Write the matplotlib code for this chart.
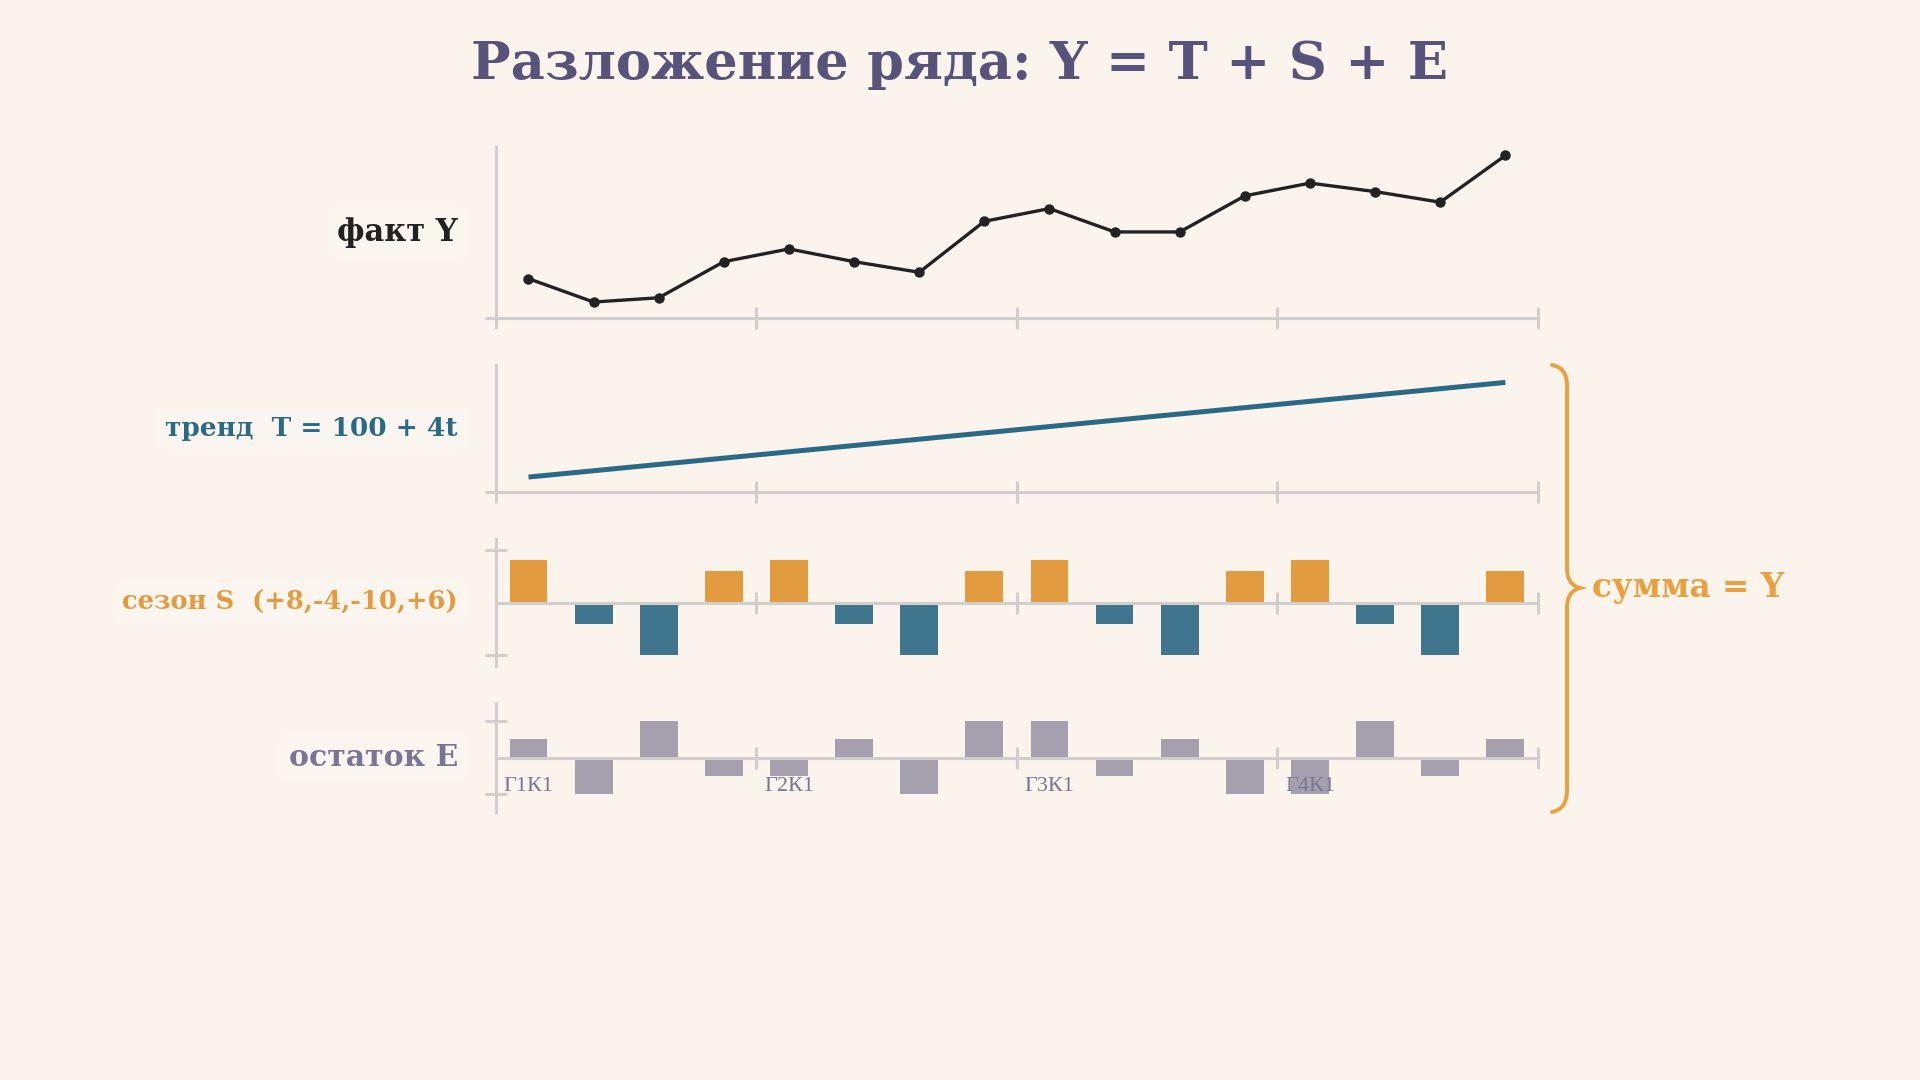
import matplotlib.pyplot as plt
from matplotlib.path import Path
from matplotlib.patches import PathPatch

# quarters t = 1..16
t = list(range(1, 17))
trend = [100 + 4 * i for i in t]
season_pattern = [8, -4, -10, 6]
season = season_pattern * 4
resid = [1, -2, 2, -1, -1, 1, -2, 2, 2, -1, 1, -2, -2, 2, -1, 1]
fact = [113, 102, 104, 121, 127, 121, 116, 140, 146, 135, 135, 152, 158, 154, 149, 171]
quarter_labels = ["Г1К1", "Г2К1", "Г3К1", "Г4К1"]
label_pos = [1, 5, 9, 13]

BG = "#faf4ec"
GRID = "#d2cecd"
INK = "#222222"
TEAL = "#2b6a86"
TEAL_BAR = "#3f768d"
ORANGE = "#e39b40"
BRACE = "#e9a03e"
PURPLE = "#57537b"
RESID = "#a59fae"
RESID_TXT = "#7a7595"

SERIF = ["DejaVu Serif"]

fig = plt.figure(figsize=(19.2, 10.8), dpi=100, facecolor=BG)

L, W = 0.2583, 0.5427
ax_y = fig.add_axes([L, 0.7056, W, 0.1583])
ax_t = fig.add_axes([L, 0.5444, W, 0.1176])
ax_s = fig.add_axes([L, 0.3833, W, 0.1176])
ax_e = fig.add_axes([L, 0.2481, W, 0.1009])

xticks = [0.5, 4.5, 8.5, 12.5, 16.5]


def style(ax, zero_line):
    ax.set_facecolor("none")
    ax.set_xlim(0.5, 16.5)
    for s in ["top", "right"]:
        ax.spines[s].set_visible(False)
    for s in ["left", "bottom"]:
        ax.spines[s].set_color(GRID)
        ax.spines[s].set_linewidth(2.2)
    if zero_line:
        ax.spines["bottom"].set_position(("data", 0))
    ax.set_xticks(xticks)
    ax.set_xticklabels([])
    ax.tick_params(axis="both", direction="inout", length=16, width=2.2,
                   color=GRID, labelleft=False, labelbottom=False)


# fact Y
ax_y.plot(t, fact, color=INK, lw=2.4, marker="o", ms=6.5, zorder=3, clip_on=False)
ax_y.set_ylim(94.5, 175)
style(ax_y, False)
ax_y.set_yticks([94.5])

# trend
ax_t.plot(t, trend, color=TEAL, lw=3.6, solid_capstyle="butt")
ax_t.set_ylim(94.5, 175)
style(ax_t, False)
ax_t.set_yticks([94.5])

# season
s_colors = [ORANGE if v > 0 else TEAL_BAR for v in season]
ax_s.bar(t, season, width=0.58, color=s_colors, zorder=1)
ax_s.set_ylim(-12, 12)
style(ax_s, True)
ax_s.set_yticks([-10, 10])

# residual
ax_e.bar(t, resid, width=0.58, color=RESID, zorder=1)
ax_e.set_ylim(-3, 3)
style(ax_e, True)
ax_e.set_yticks([-2, 2])
for p, lab in zip(label_pos, quarter_labels):
    ax_e.text(p, -1.57, lab, ha="center", va="center", fontsize=16,
              family=["Liberation Serif"], color=RESID_TXT, zorder=3)

# panel labels
lx = -0.0365
box = dict(boxstyle="round,pad=0.35", fc="#fcf8f3", ec="none", alpha=0.4)
ax_y.text(lx, 0.5, "факт Y", transform=ax_y.transAxes, ha="right", va="center",
          fontsize=22, fontweight="bold", family=SERIF, color=INK, bbox=box)
ax_t.text(lx, 0.5, "тренд  T = 100 + 4t", transform=ax_t.transAxes, ha="right", va="center",
          fontsize=19, fontweight="bold", family=SERIF, color=TEAL, bbox=box)
ax_s.text(lx, 0, "сезон S  (+8,-4,-10,+6)", transform=ax_s.get_yaxis_transform(),
          ha="right", va="center", fontsize=18.5, fontweight="bold", family=SERIF,
          color=ORANGE, bbox=box)
ax_e.text(lx, 0, "остаток E", transform=ax_e.get_yaxis_transform(), ha="right", va="center",
          fontsize=21.5, fontweight="bold", family=SERIF, color=RESID_TXT, bbox=box)

# title
fig.text(0.5, 1 - 64 / 1080, "Разложение ряда: Y = T + S + E", ha="center", va="center",
         fontsize=38, fontweight="bold", family=SERIF, color=PURPLE)

# curly brace (in figure pixels)
H = 1080


def P(x, y):
    return (x, H - y)


verts = [P(1552, 365), P(1562, 367), P(1567, 373), P(1567, 386),
         P(1567, 568),
         P(1567, 580), P(1572, 586), P(1580, 588),
         P(1572, 590), P(1567, 596), P(1567, 608),
         P(1567, 790),
         P(1567, 803), P(1562, 810), P(1552, 812)]
codes = [Path.MOVETO, Path.CURVE4, Path.CURVE4, Path.CURVE4,
         Path.LINETO,
         Path.CURVE4, Path.CURVE4, Path.CURVE4,
         Path.CURVE4, Path.CURVE4, Path.CURVE4,
         Path.LINETO,
         Path.CURVE4, Path.CURVE4, Path.CURVE4]
brace = PathPatch(Path(verts, codes), fc="none", ec=BRACE, lw=2.8,
                  transform=None, capstyle="round")
fig.patches.append(brace)
fig.text(1592 / 1920, 1 - 588 / 1080, "сумма = Y", ha="left", va="center",
         fontsize=23.5, fontweight="bold", family=SERIF, color=BRACE)

fig.savefig("out.png", dpi=100, facecolor=BG)
